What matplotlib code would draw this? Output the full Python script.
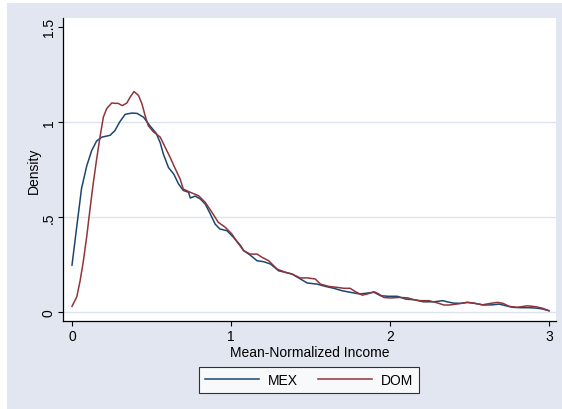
import matplotlib
matplotlib.use("Agg")
import matplotlib.pyplot as plt
from matplotlib.patches import Rectangle

plt.rcParams['font.family'] = ['Liberation Sans', 'DejaVu Sans']

# Mean-normalized income grid and kernel density estimates
mex_x = [0.0, 0.03, 0.06, 0.093, 0.124, 0.155, 0.187, 0.24, 0.27, 0.30, 0.334, 0.376, 0.41,
         0.45, 0.49, 0.53, 0.555, 0.575, 0.607, 0.64, 0.67, 0.70, 0.733, 0.744, 0.775, 0.807,
         0.838, 0.87, 0.90, 0.93, 0.975, 1.016, 1.06, 1.08, 1.12, 1.164, 1.205, 1.248, 1.30,
         1.342, 1.384, 1.437, 1.479, 1.542, 1.594, 1.647, 1.70, 1.75, 1.81, 1.857, 1.90, 1.94,
         1.99, 2.046, 2.10, 2.15, 2.21, 2.277, 2.33, 2.36, 2.40, 2.445, 2.487, 2.53, 2.59,
         2.645, 2.686, 2.73, 2.77, 2.82, 2.875, 2.92, 2.96, 3.0]
mex_y = [0.247, 0.45, 0.65, 0.77, 0.85, 0.90, 0.92, 0.93, 0.955, 1.0, 1.04, 1.047, 1.045,
         1.025, 0.98, 0.94, 0.89, 0.83, 0.76, 0.726, 0.674, 0.64, 0.63, 0.60, 0.61, 0.595,
         0.568, 0.516, 0.463, 0.437, 0.428, 0.393, 0.35, 0.323, 0.30, 0.27, 0.265, 0.253, 0.217,
         0.209, 0.20, 0.174, 0.153, 0.147, 0.135, 0.125, 0.112, 0.104, 0.095, 0.10, 0.104, 0.086,
         0.083, 0.083, 0.068, 0.065, 0.054, 0.054, 0.06, 0.054, 0.047, 0.046, 0.051, 0.046, 0.037,
         0.038, 0.042, 0.033, 0.025, 0.023, 0.023, 0.021, 0.016, 0.007]

dom_x = [0.0, 0.03, 0.05, 0.07, 0.093, 0.113, 0.134, 0.155, 0.176, 0.197, 0.218, 0.25, 0.27,
         0.29, 0.317, 0.345, 0.365, 0.39, 0.418, 0.44, 0.46, 0.48, 0.51, 0.555, 0.586, 0.617,
         0.65, 0.68, 0.70, 0.744, 0.796, 0.838, 0.88, 0.92, 0.964, 1.006, 1.04, 1.08, 1.12,
         1.164, 1.195, 1.237, 1.29, 1.342, 1.384, 1.437, 1.479, 1.53, 1.563, 1.615, 1.668, 1.71,
         1.75, 1.783, 1.825, 1.857, 1.90, 1.93, 1.96, 2.0, 2.057, 2.11, 2.15, 2.19, 2.245, 2.287,
         2.34, 2.37, 2.42, 2.487, 2.53, 2.58, 2.634, 2.676, 2.71, 2.75, 2.80, 2.865, 2.917,
         2.96, 3.0]
dom_y = [0.03, 0.08, 0.16, 0.26, 0.40, 0.54, 0.68, 0.805, 0.92, 1.025, 1.07, 1.10, 1.098,
         1.098, 1.086, 1.10, 1.13, 1.16, 1.14, 1.095, 1.033, 0.98, 0.95, 0.92, 0.867, 0.814,
         0.753, 0.70, 0.647, 0.63, 0.612, 0.577, 0.525, 0.472, 0.446, 0.41, 0.367, 0.323, 0.305,
         0.305, 0.288, 0.27, 0.226, 0.209, 0.20, 0.179, 0.18, 0.174, 0.147, 0.135, 0.13, 0.125,
         0.125, 0.107, 0.089, 0.095, 0.107, 0.095, 0.077, 0.074, 0.077, 0.075, 0.065, 0.06, 0.06,
         0.051, 0.037, 0.037, 0.042, 0.051, 0.047, 0.038, 0.046, 0.051, 0.046, 0.03, 0.025,
         0.033, 0.028, 0.02, 0.007]

series_labels = ["MEX", "DOM"]
x_ticks = [0, 1, 2, 3]
y_ticks = [0, 0.5, 1, 1.5]
y_ticklabels = ["0", ".5", "1", "1.5"]
grid_values = [0, 0.5, 1]

W, H = 562, 410
fig = plt.figure(figsize=(W / 100, H / 100), dpi=100)
fig.patch.set_facecolor("white")
bg = "#e1e6f0"
fig.add_artist(Rectangle((7 / W, 0), 1 - 7 / W, 1 - 4 / H, transform=fig.transFigure,
                         facecolor=bg, edgecolor="none", zorder=-10))

ax = fig.add_axes([63 / W, 88 / H, (556 - 63) / W, (322 - 19) / H])
ax.set_zorder(1)
ax.set_facecolor("white")

for g in grid_values:
    ax.axhline(g, color="#dce2ee", lw=1.0, zorder=1)

navy = "#1a476f"
maroon = "#90353b"
ax.plot(mex_x, mex_y, color=navy, lw=1.1, label=series_labels[0], zorder=3)
ax.plot(dom_x, dom_y, color=maroon, lw=1.1, label=series_labels[1], zorder=3)

ax.set_xlim(-0.0566, 3.044)
ax.set_ylim(-0.047, 1.547)
ax.set_xticks(x_ticks)
ax.set_xticklabels([str(t) for t in x_ticks])
ax.set_yticks(y_ticks)
ax.set_yticklabels(y_ticklabels, rotation=90, va="center")
ax.tick_params(axis="both", direction="out", length=3.6, width=0.8, labelsize=10,
               colors="black", pad=2.5)
ax.tick_params(axis="y", pad=1.5)
for s in ["top", "right"]:
    ax.spines[s].set_visible(False)
for s in ["left", "bottom"]:
    ax.spines[s].set_linewidth(0.9)
    ax.spines[s].set_color("black")

ax.set_xlabel("Mean-Normalized Income", fontsize=10, labelpad=1)
ax.set_ylabel("Density", fontsize=10, labelpad=1)

leg = fig.legend(loc="center", bbox_to_anchor=(309 / W, 1 - 381 / H), ncol=2,
                 fontsize=10, frameon=True, fancybox=False, handlelength=3.9,
                 handletextpad=0.65, columnspacing=1.4, borderpad=0.45)
leg.get_frame().set_edgecolor("black")
leg.get_frame().set_linewidth(0.8)
leg.get_frame().set_facecolor("white")

fig.savefig("out.png", dpi=100, facecolor=fig.get_facecolor())
